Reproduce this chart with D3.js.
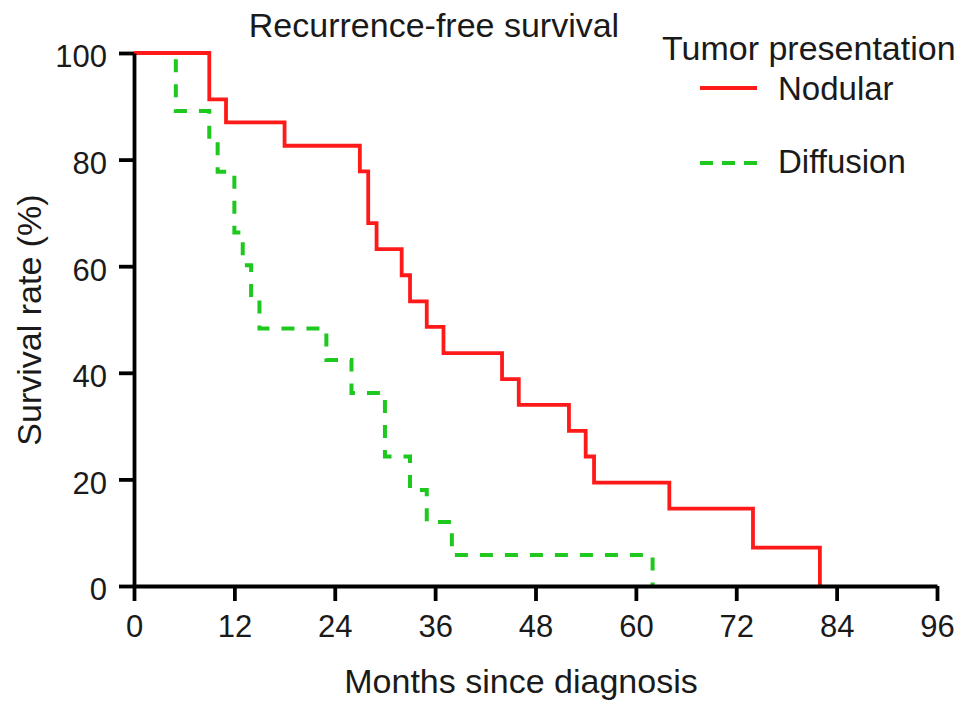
<!DOCTYPE html>
<html>
<head>
<meta charset="utf-8">
<script src="https://cdn.jsdelivr.net/npm/d3@7/dist/d3.min.js"></script>
<style>
  html, body { margin: 0; padding: 0; background: #fff; }
  svg { display: block; }
  text { font-family: "Liberation Sans", Arial, Helvetica, sans-serif; fill: #1a1a1a; }
</style>
</head>
<body>
<svg id="chart" width="969" height="713"></svg>
<script>
// ---- data ----
const nodularMonths   = [0, 9, 11, 18, 27, 28, 29, 32, 33, 35, 37, 44, 46, 52, 54, 55, 64, 74, 82];
const nodularSurvival = [100, 91.3, 87.0, 82.6, 77.8, 68.1, 63.2, 58.3, 53.4, 48.6, 43.7, 38.8, 34.0, 29.1, 24.3, 19.4, 14.5, 7.2, 0];
const diffusionMonths   = [0, 5, 9, 10, 12, 13, 14, 15, 23, 26, 30, 33, 35, 38, 62];
const diffusionSurvival = [100, 89.1, 83.5, 77.7, 66.3, 60.2, 53.8, 48.3, 42.4, 36.2, 24.3, 18.0, 12.0, 5.8, 0];
const xTicks = [0, 12, 24, 36, 48, 60, 72, 84, 96];
const yTicks = [0, 20, 40, 60, 80, 100];
const seriesNames = ["Nodular", "Diffusion"];
const titleText = "Recurrence-free survival";
const legendTitle = "Tumor presentation";
const xTitle = "Months since diagnosis";
const yTitle = "Survival rate (%)";

// ---- drawing ----
const svg = d3.select("#chart");
const x = d3.scaleLinear().domain([0, 96]).range([134, 937]);
const y = d3.scaleLinear().domain([0, 100]).range([586, 53]);

const line = d3.line().x(d => x(d[0])).y(d => y(d[1])).curve(d3.curveStepAfter);
const nodular = nodularMonths.map((m, i) => [m, nodularSurvival[i]]);
const diffusion = diffusionMonths.map((m, i) => [m, diffusionSurvival[i]]);

const green = "#1ec81e", red = "#ff1a1a";

// Diffusion (under)
svg.append("path").datum(diffusion)
  .attr("d", line).attr("fill", "none")
  .attr("stroke", green).attr("stroke-width", 4)
  .attr("stroke-dasharray", "13,12")
  .attr("stroke-dashoffset", 2)
  .attr("stroke-linejoin", "miter");

// Nodular
svg.append("path").datum(nodular)
  .attr("d", line).attr("fill", "none")
  .attr("stroke", red).attr("stroke-width", 3.8)
  .attr("stroke-linejoin", "miter");

// Axes
const xAxis = svg.append("g").attr("transform", `translate(0,${y(0)})`)
  .call(d3.axisBottom(x).tickValues(xTicks).tickSize(15).tickSizeOuter(0).tickPadding(7));
const yAxis = svg.append("g").attr("transform", `translate(${x(0)},0)`)
  .call(d3.axisLeft(y).tickValues(yTicks).tickSize(15).tickSizeOuter(0).tickPadding(12));

[xAxis, yAxis].forEach(g => {
  g.select(".domain").attr("stroke", "#000").attr("stroke-width", 3.8);
  g.selectAll(".tick line").attr("stroke", "#000").attr("stroke-width", 3.8);
  g.selectAll(".tick text").attr("font-size", 31).attr("fill", "#1a1a1a")
    .attr("font-family", "'Liberation Sans', Arial, Helvetica, sans-serif");
});
xAxis.selectAll(".tick text").attr("dy", "0.95em");
yAxis.selectAll(".tick text").attr("dy", "0.45em");

// Titles
svg.append("text").attr("x", 434).attr("y", 37)
  .attr("text-anchor", "middle").attr("font-size", 34).text(titleText);
svg.append("text").attr("x", 521).attr("y", 693)
  .attr("text-anchor", "middle").attr("font-size", 34).text(xTitle);
svg.append("text").attr("transform", "translate(41,320) rotate(-90)")
  .attr("text-anchor", "middle").attr("font-size", 34).text(yTitle);

// Legend
svg.append("text").attr("x", 662).attr("y", 60).attr("font-size", 34).text(legendTitle);
const legendItems = [
  { name: seriesNames[0], color: red, dash: null, width: 3.8, ly: 88, ty: 100 },
  { name: seriesNames[1], color: green, dash: "13,9", width: 4, ly: 163, ty: 173 }
];
legendItems.forEach(it => {
  svg.append("line").attr("x1", 700).attr("x2", 757).attr("y1", it.ly).attr("y2", it.ly)
    .attr("stroke", it.color).attr("stroke-width", it.width)
    .attr("stroke-dasharray", it.dash);
  svg.append("text").attr("x", 778).attr("y", it.ty).attr("font-size", 33).text(it.name);
});
</script>
</body>
</html>
